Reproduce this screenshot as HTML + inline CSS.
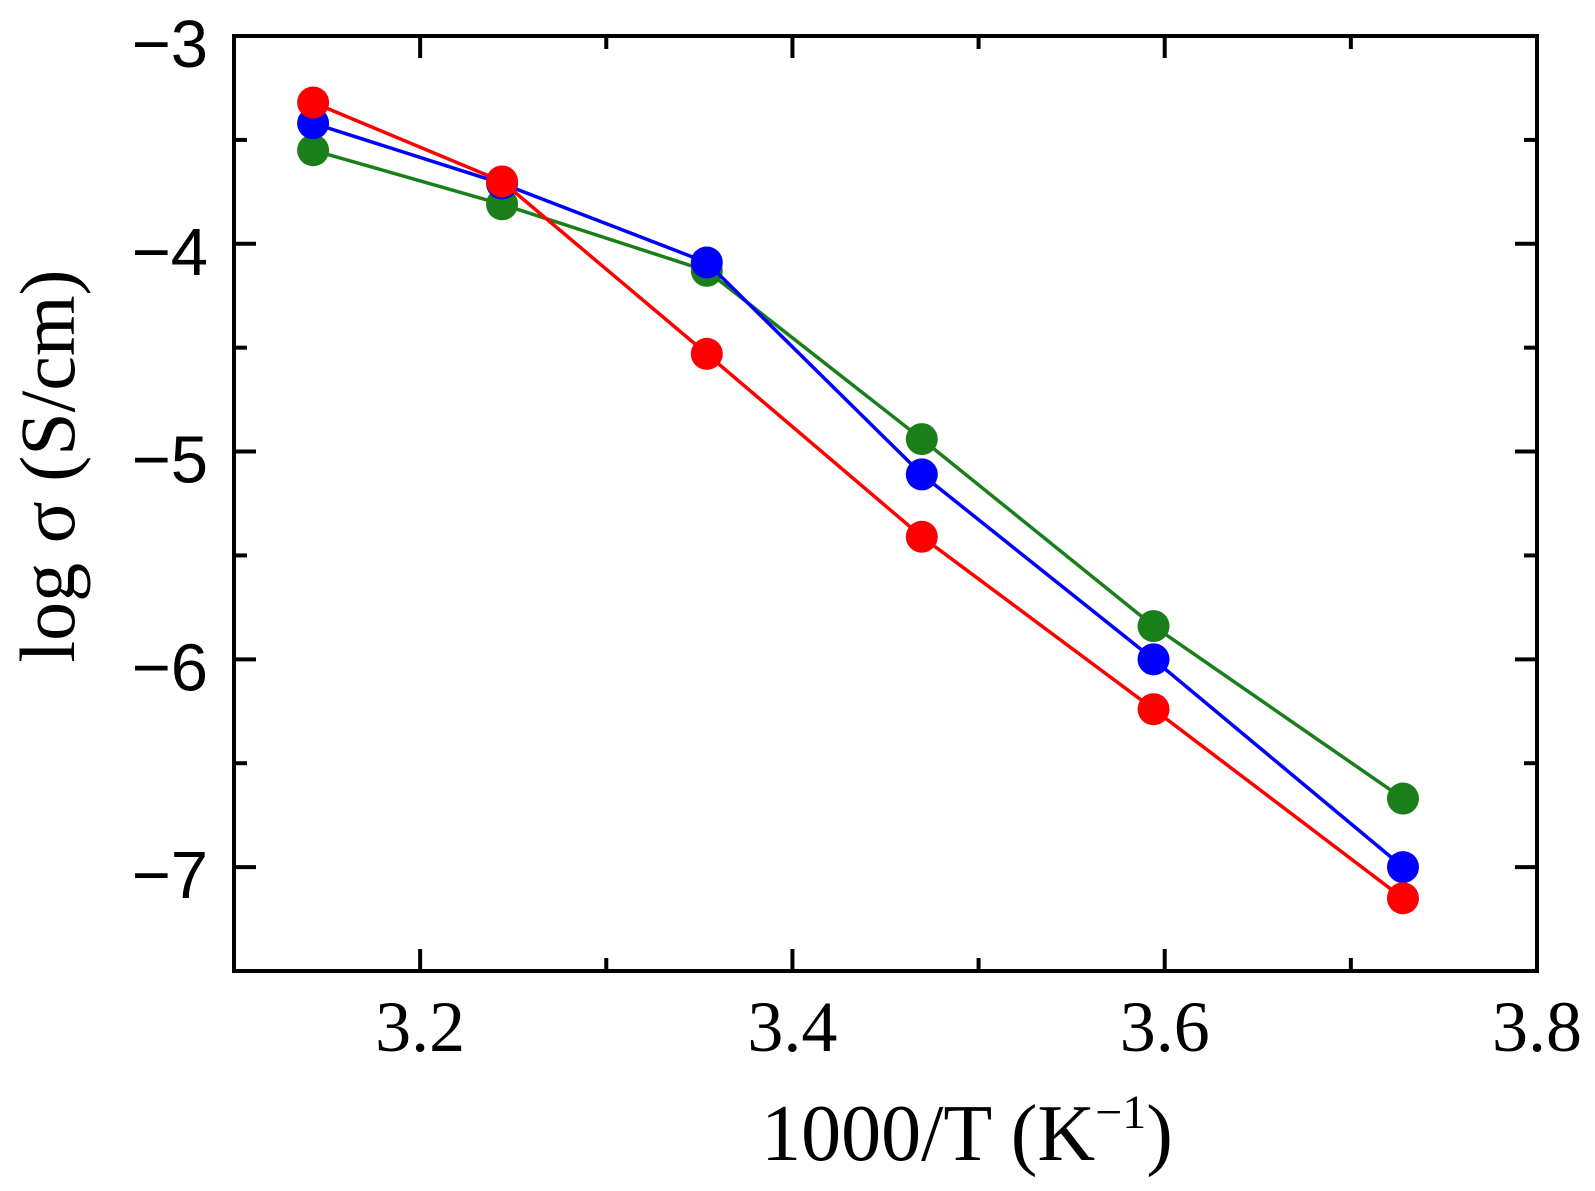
<!DOCTYPE html>
<html><head><meta charset="utf-8"><style>
html,body{margin:0;padding:0;background:#fff;}
svg text{font-family:"Liberation Serif",serif;fill:#000;}
</style></head><body>
<svg id="chart" width="1595" height="1186" viewBox="0 0 1595 1186" xmlns="http://www.w3.org/2000/svg"></svg>
<script>
const xValues = [3.1425, 3.244, 3.354, 3.4695, 3.594, 3.728];
const redSeries = [-3.32, -3.70, -4.53, -5.41, -6.24, -7.15];
const blueSeries = [-3.42, -3.71, -4.09, -5.11, -6.00, -7.00];
const greenSeries = [-3.55, -3.81, -4.13, -4.94, -5.84, -6.67];
const xTicks = [3.2, 3.4, 3.6, 3.8];
const xMinor = [3.3, 3.5, 3.7];
const yTicks = [-3, -4, -5, -6, -7];
const yMinor = [-3.5, -4.5, -5.5, -6.5, -7.5];

const L=234,R=1537,T=36,B=971;
const xMin=3.1,xMax=3.8,yMin=-7.5,yMax=-3;
const sx=v=>L+(v-xMin)/(xMax-xMin)*(R-L);
const sy=v=>B-(v-yMin)/(yMax-yMin)*(B-T);
const svg=document.getElementById('chart');
const NS='http://www.w3.org/2000/svg';
function mk(tag,attrs){const e=document.createElementNS(NS,tag);for(const k in attrs)e.setAttribute(k,attrs[k]);svg.appendChild(e);return e;}

let frame=mk('rect',{x:L,y:T,width:R-L,height:B-T,fill:'none',stroke:'#000','stroke-width':4});



xTicks.forEach(v=>{
  const x=sx(v);
  let t=mk('line',{x1:x,y1:B,x2:x,y2:B-22,stroke:'#000','stroke-width':4});
  
  
  let t2=mk('line',{x1:x,y1:T,x2:x,y2:T+22,stroke:'#000','stroke-width':4});
  
  
  let lb=mk('text',{x:x,y:1051,'font-size':72,'text-anchor':'middle'});
  lb.textContent=v.toFixed(1);
  
  
});
xMinor.forEach(v=>{
  const x=sx(v);
  let t=mk('line',{x1:x,y1:B,x2:x,y2:B-13,stroke:'#000','stroke-width':4});
  
  
  let t2=mk('line',{x1:x,y1:T,x2:x,y2:T+13,stroke:'#000','stroke-width':4});
  
  
});
yTicks.forEach(v=>{
  const y=sy(v);
  let t=mk('line',{x1:L,y1:y,x2:L+22,y2:y,stroke:'#000','stroke-width':4});
  
  
  let t2=mk('line',{x1:R,y1:y,x2:R-22,y2:y,stroke:'#000','stroke-width':4});
  
  
  let lb=mk('text',{x:208,y:y+31,'font-size':67,'text-anchor':'end'});
  lb.setAttribute('style','font-family:"Liberation Sans",sans-serif');
  lb.textContent='\u2212'+Math.abs(v);
  
  
});
yMinor.forEach(v=>{
  const y=sy(v);
  let t=mk('line',{x1:L,y1:y,x2:L+13,y2:y,stroke:'#000','stroke-width':4});
  
  
  let t2=mk('line',{x1:R,y1:y,x2:R-13,y2:y,stroke:'#000','stroke-width':4});
  
  
});

function series(vals,color,name){
  const pts=xValues.map((x,i)=>sx(x)+','+sy(vals[i])).join(' ');
  let pl=mk('polyline',{points:pts,fill:'none',stroke:color,'stroke-width':3.5});
  
  
  xValues.forEach((x,i)=>{
    let c=mk('circle',{cx:sx(x),cy:sy(vals[i]),r:16,fill:color});
    
    
  });
}
series(greenSeries,'#1a7f1a','green-series');
series(blueSeries,'#0000ff','blue-series');
series(redSeries,'#ff0000','red-series');

let xl=mk('text',{x:967,y:1160,'font-size':80,'text-anchor':'middle'});
xl.innerHTML='1000/T (K<tspan font-size="48" dy="-32">\u22121</tspan><tspan dy="32">)</tspan>';


let yl=mk('text',{x:0,y:0,'font-size':78,'text-anchor':'middle',transform:'translate(74,466) rotate(-90)'});
yl.textContent='log \u03c3 (S/cm)';


</script>
</body></html>
